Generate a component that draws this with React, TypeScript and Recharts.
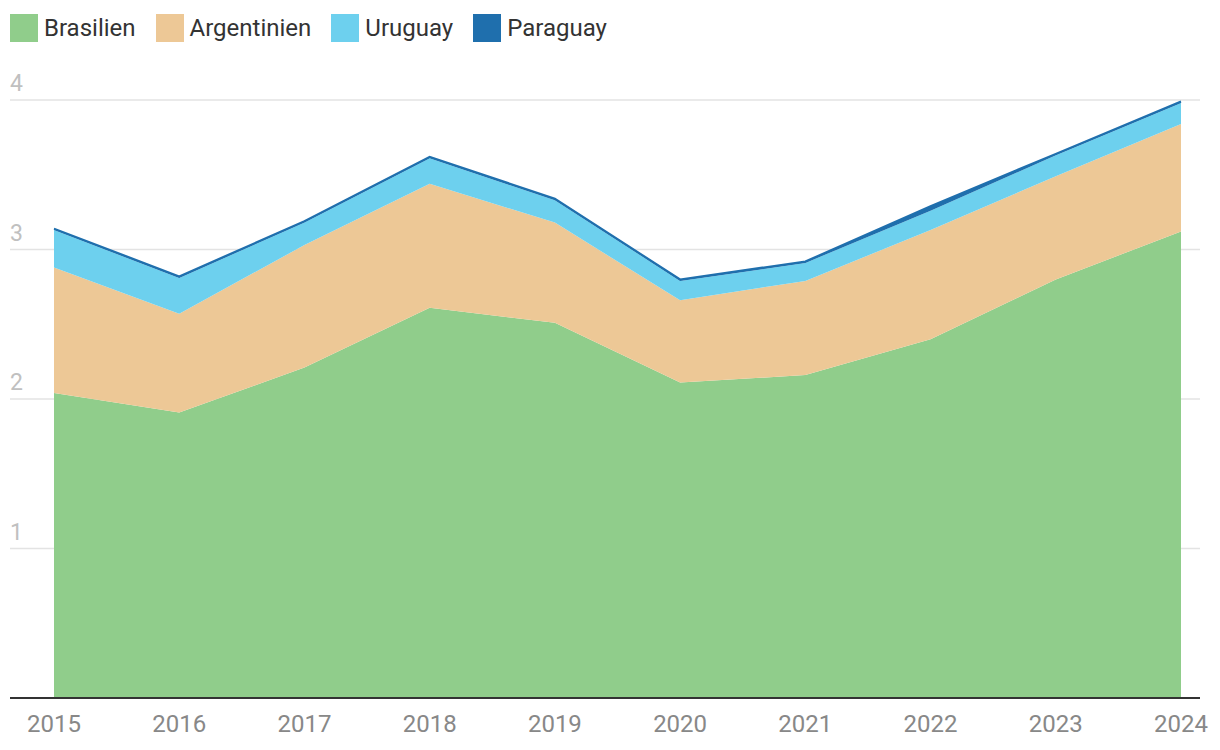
import React from 'react';
import { AreaChart, Area, XAxis, YAxis, CartesianGrid } from 'recharts';

const years = ['2015', '2016', '2017', '2018', '2019', '2020', '2021', '2022', '2023', '2024'];
const brasilien = [2.04, 1.91, 2.21, 2.61, 2.51, 2.11, 2.16, 2.4, 2.8, 3.12];
const argentinien = [0.84, 0.66, 0.82, 0.83, 0.67, 0.55, 0.63, 0.73, 0.69, 0.72];
const uruguay = [0.25, 0.24, 0.15, 0.17, 0.15, 0.13, 0.12, 0.13, 0.14, 0.14];
const paraguay = [0.01, 0.01, 0.01, 0.01, 0.01, 0.01, 0.01, 0.03, 0.01, 0.01];
const yTicks = [0, 1, 2, 3, 4];

const series = [
  { key: 'Brasilien', color: '#90cd8b', values: brasilien },
  { key: 'Argentinien', color: '#edc896', values: argentinien },
  { key: 'Uruguay', color: '#6dd0ee', values: uruguay },
  { key: 'Paraguay', color: '#1f6fad', values: paraguay },
];

const data = years.map((year, i) => {
  const row: Record<string, string | number> = { year };
  series.forEach((s) => {
    row[s.key] = s.values[i];
  });
  return row;
});

const FONT = 'Roboto, "Noto Sans", sans-serif';

// y labels sit above the gridlines at the left edge
const renderYTick = (props: any) => {
  const { y, payload } = props;
  if (payload.value === 0) return <g />;
  return (
    <text x={10} y={y - 9} fill="#c0c0c0" fontSize={23} fontFamily={FONT} textAnchor="start">
      {payload.value}
    </text>
  );
};

const Legend = () => (
  <div
    style={{
      position: 'absolute',
      left: 10,
      top: 14,
      display: 'flex',
      gap: 20,
      fontFamily: FONT,
      fontSize: 24,
      color: '#333',
      lineHeight: '28px',
    }}
  >
    {series.map((s) => (
      <div key={s.key} style={{ display: 'flex', alignItems: 'center' }}>
        <span style={{ width: 28, height: 28, background: s.color, marginRight: 6, display: 'inline-block' }} />
        <span>{s.key}</span>
      </div>
    ))}
  </div>
);

export default function App() {
  return (
    <div style={{ position: 'absolute', left: 0, top: 0, width: 1220, height: 750, background: '#fff' }}>
      <Legend />
      <AreaChart
        width={1220}
        height={750}
        data={data}
        margin={{ top: 100, right: 20, bottom: 12, left: 10 }}
      >
        <CartesianGrid vertical={false} stroke="#e3e3e3" strokeWidth={1.5} />
        <YAxis
          domain={[0, 4]}
          ticks={yTicks}
          width={1}
          mirror
          axisLine={false}
          tickLine={false}
          tick={renderYTick}
        />
        {series.map((s) => (
          <Area
            key={s.key}
            type="linear"
            dataKey={s.key}
            stackId="1"
            fill={s.color}
            fillOpacity={1}
            stroke={s.key === 'Paraguay' ? s.color : 'none'}
            strokeWidth={s.key === 'Paraguay' ? 2 : 0}
            dot={false}
            activeDot={false}
            isAnimationActive={false}
          />
        ))}
        <XAxis
          dataKey="year"
          height={40}
          padding={{ left: 44, right: 19 }}
          axisLine={{ stroke: '#333', strokeWidth: 2 }}
          tickLine={false}
          tick={{ fill: '#888', fontSize: 24, fontFamily: FONT }}
          tickMargin={11}
          interval={0}
        />
      </AreaChart>
    </div>
  );
}
